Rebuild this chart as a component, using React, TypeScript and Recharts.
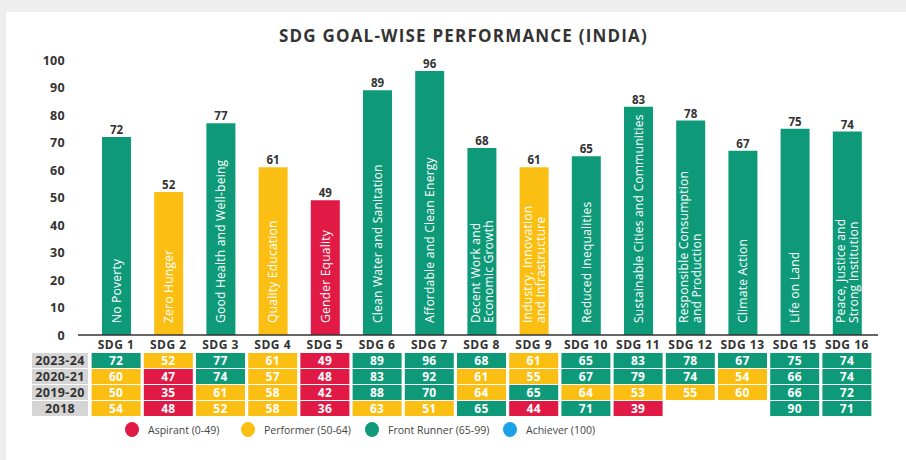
import React from 'react';
import { BarChart, Bar, XAxis, YAxis, Cell, LabelList } from 'recharts';

const sdgCodes = ['SDG 1', 'SDG 2', 'SDG 3', 'SDG 4', 'SDG 5', 'SDG 6', 'SDG 7', 'SDG 8', 'SDG 9', 'SDG 10', 'SDG 11', 'SDG 12', 'SDG 13', 'SDG 15', 'SDG 16'];
const goalNames = [
  'No Poverty',
  'Zero Hunger',
  'Good Health and Well-being',
  'Quality Education',
  'Gender Equality',
  'Clean Water and Sanitation',
  'Affordable and Clean Energy',
  'Decent Work and|Economic Growth',
  'Industry, Innovation|and Infrastructure',
  'Reduced Inequalities',
  'Sustainable Cities and Communities',
  'Responsible Consumption|and Production',
  'Climate Action',
  'Life on Land',
  'Peace, Justice and|Strong Institution',
];
const score2023 = [72, 52, 77, 61, 49, 89, 96, 68, 61, 65, 83, 78, 67, 75, 74];
const score2020 = [60, 47, 74, 57, 48, 83, 92, 61, 55, 67, 79, 74, 54, 66, 74];
const score2019 = [50, 35, 61, 58, 42, 88, 70, 64, 65, 64, 53, 55, 60, 66, 72];
const score2018 = [54, 48, 52, 58, 36, 63, 51, 65, 44, 71, 39, null, null, 90, 71];
const yearLabels = ['2023-24', '2020-21', '2019-20', '2018'];
const yTicks = [0, 10, 20, 30, 40, 50, 60, 70, 80, 90, 100];
const legendItems = ['Aspirant (0-49)', 'Performer (50-64)', 'Front Runner (65-99)', 'Achiever (100)'];

const GREEN = '#0E9A79';
const YELLOW = '#FBBF14';
const RED = '#E01A45';
const BLUE = '#1AA2E6';
const legendColors = [RED, YELLOW, GREEN, BLUE];
const legendLeft = [125, 241, 365, 503];
const FONT = "'Open Sans', 'DejaVu Sans', sans-serif";
const TEXT = '#333333';

const colorFor = (v: number | null) =>
  v == null ? 'none' : v >= 100 ? BLUE : v >= 65 ? GREEN : v >= 50 ? YELLOW : RED;

const tableRows = [score2023, score2020, score2019, score2018];

const chartData = sdgCodes.map((sdg, i) => ({
  sdg,
  name: goalNames[i],
  score: score2023[i],
}));

const TableTick = (props: any) => {
  const { x, y, payload } = props;
  const i = payload.index;
  const cellW = 49;
  const cellH = 15;
  return (
    <g fontFamily={FONT}>
      <text x={x} y={y + 14} textAnchor="middle" fontWeight={700} fontSize={12} letterSpacing={0.5} fill={TEXT}>
        {payload.value}
      </text>
      {tableRows.map((row, r) => {
        const v = row[i];
        if (v == null) return null;
        const top = y + 18 + r * 16;
        return (
          <g key={r}>
            <rect x={x - cellW / 2} y={top} width={cellW} height={cellH} fill={colorFor(v)} />
            <text x={x} y={top + 11.8} textAnchor="middle" fontWeight={700} fontSize={12} letterSpacing={0.3} fill="#ffffff">
              {v}
            </text>
          </g>
        );
      })}
      {i === 0 &&
        yearLabels.map((lab, r) => {
          const top = y + 18 + r * 16;
          return (
            <g key={'y' + r}>
              <rect x={32} y={top} width={56} height={15} fill="#D5D5D5" />
              <text x={60} y={top + 12} textAnchor="middle" fontWeight={700} fontSize={12.5} letterSpacing={0.4} fill={TEXT}>
                {lab}
              </text>
            </g>
          );
        })}
    </g>
  );
};

const YTick = (props: any) => {
  const { x, y, payload } = props;
  return (
    <text x={x} y={y + 4.5} textAnchor="end" fontFamily={FONT} fontWeight={700} fontSize={12.5} letterSpacing={0.3} fill={TEXT}>
      {payload.value}
    </text>
  );
};

const InnerLabel = (props: any) => {
  const { x, y, width, height, value } = props;
  const cx = Number(x) + Number(width) / 2;
  const bottom = Number(y) + Number(height) - 12;
  const lines = String(value).split('|');
  return (
    <text
      transform={`translate(${cx},${bottom}) rotate(-90)`}
      textAnchor="start"
      fill="#ffffff"
      fontSize={12.1}
      letterSpacing={0.2}
      fontFamily={FONT}
    >
      {lines.map((l, k) => (
        <tspan key={k} x={0} y={(k - (lines.length - 1) / 2) * 13 + 4.2}>
          {l}
        </tspan>
      ))}
    </text>
  );
};

export default function App() {
  return (
    <div style={{ position: 'absolute', left: 0, top: 0, width: 906, height: 460, background: '#EEEEEE', overflow: 'hidden' }}>
      <div style={{ position: 'absolute', left: 6, top: 12, width: 900, height: 448, background: '#ffffff' }} />
      <div
        style={{
          position: 'absolute',
          left: 0,
          top: 25,
          width: 927,
          textAlign: 'center',
          fontFamily: FONT,
          fontWeight: 700,
          fontSize: 17,
          letterSpacing: 1.2,
          color: TEXT,
          lineHeight: '22px',
        }}
      >
        SDG GOAL-WISE PERFORMANCE (INDIA)
      </div>
      <div style={{ position: 'absolute', left: 0, top: 0 }}>
        <BarChart width={906} height={460} data={chartData} margin={{ top: 60, right: 28, left: 38, bottom: 25 }}>
          <XAxis
            dataKey="sdg"
            type="category"
            padding={{ left: 12, right: 5 }}
            axisLine={{ stroke: '#333333', strokeWidth: 1.5 }}
            tickLine={false}
            tickSize={0}
            tickMargin={0}
            height={100}
            interval={0}
            tick={<TableTick />}
          />
          <YAxis
            type="number"
            domain={[0, 100]}
            ticks={yTicks}
            axisLine={false}
            tickLine={false}
            tickSize={0}
            tickMargin={13}
            width={40}
            interval={0}
            tick={<YTick />}
          />
          <Bar dataKey="score" barSize={29} isAnimationActive={false}>
            {chartData.map((d, i) => (
              <Cell key={i} fill={colorFor(d.score)} />
            ))}
            <LabelList dataKey="score" position="top" offset={3} fill={TEXT} fontSize={11.5} fontWeight={700} fontFamily={FONT} />
            <LabelList dataKey="name" content={<InnerLabel />} />
          </Bar>
        </BarChart>
      </div>
      {legendItems.map((label, k) => (
        <div
          key={k}
          style={{
            position: 'absolute',
            left: legendLeft[k],
            top: 422,
            display: 'flex',
            alignItems: 'center',
            fontFamily: FONT,
            fontSize: 10.5,
            color: '#444444',
            whiteSpace: 'nowrap',
          }}
        >
          <span
            style={{
              display: 'inline-block',
              width: 14,
              height: 15,
              borderRadius: '50%',
              background: legendColors[k],
              marginRight: 9,
            }}
          />
          <span>{label}</span>
        </div>
      ))}
    </div>
  );
}
